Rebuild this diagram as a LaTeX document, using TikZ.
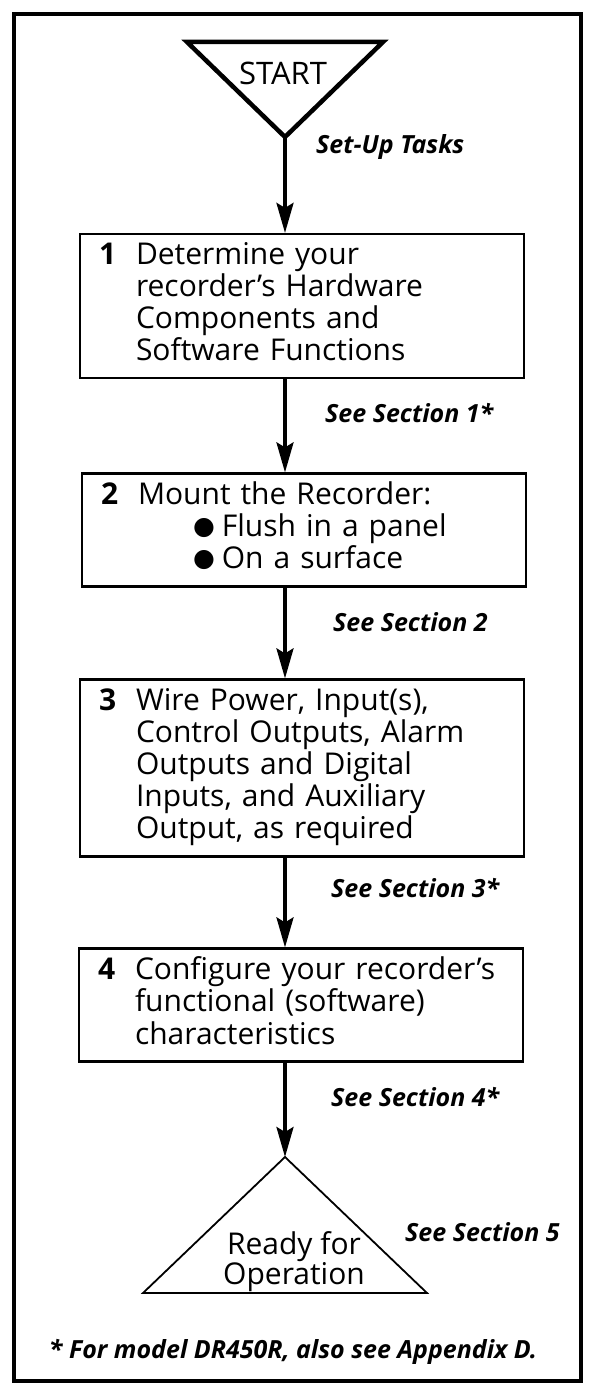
\documentclass[tikz,border=0pt]{standalone}
\usepackage{fontspec}
\setmainfont{Open Sans}
\newfontfamily\bulletfont{DejaVu Sans}
\usetikzlibrary{arrows.meta}

% number column + text column inside a step box
\newcommand{\stepnum}[2]{%
  \begin{tabular}[t]{@{}p{37pt}@{}l@{}}\textbf{#1} & \begin{tabular}[t]{@{}l@{}}#2\end{tabular}\end{tabular}}
\newcommand{\bul}{\hspace*{55pt}\raisebox{2pt}{\bulletfont\fontsize{25}{31}\selectfont ●}\hspace{7pt}}

\begin{document}
\begin{tikzpicture}[x=1pt,y=-1pt,every path/.style={>={Stealth[length=30pt,width=17pt,inset=5pt]}},
	stepbox/.style={draw,line width=2.2pt,rectangle,inner xsep=19pt,inner ysep=0pt,text width=406pt,align=left,font=\fontsize{30}{31}\selectfont},
	seclabel/.style={inner sep=0pt,anchor=west,font=\fontsize{25}{28}\selectfont\bfseries\itshape},
	flow/.style={->,line width=3.5pt}]
	\useasboundingbox (0,0) rectangle (592,1383);

	% draw outer frame
	\draw[line width=4pt] (14,14) rectangle (581,1381);

	% draw start triangle
	\coordinate (startapex) at (285,137);
	\draw[line width=4.5pt,line join=miter] (187,42) -- (383,42) -- (startapex) -- cycle;
	\node (start) at (283,73) [font=\fontsize{31}{31}\selectfont] {START};
	\node (setup) at (316,147) [seclabel] {Set-Up Tasks};

	% draw step boxes
	\node (step1) at (302,306) [stepbox,minimum height=144pt]
		{\stepnum{1}{Determine your\\recorder’s Hardware\\Components and\\Software Functions}};
	\node (step2) at (304,530) [stepbox,minimum height=113pt]
		{\stepnum{2}{Mount the Recorder:\\\bul Flush in a panel\\\bul On a surface}};
	\node (step3) at (302,768) [stepbox,minimum height=177pt]
		{\stepnum{3}{Wire Power, Input(s),\\Control Outputs, Alarm\\Outputs and Digital\\Inputs, and Auxiliary\\Output, as required}};
	\node (step4) at (301,1005) [stepbox,minimum height=113pt]
		{\stepnum{4}{Configure your recorder’s\\functional (software)\\characteristics}};

	% draw end triangle
	\coordinate (endapex) at (285,1157);
	\draw[line width=1.8pt,line join=miter] (endapex) -- (427,1293) -- (143,1293) -- cycle;
	\node (ready) at (294,1262) [align=center,font=\fontsize{30}{30}\selectfont] {Ready for\\Operation};

	% draw section labels
	\node (sec1) at (325,413) [seclabel] {See Section 1*};
	\node (sec2) at (333,622) [seclabel] {See Section 2};
	\node (sec3) at (331,888) [seclabel] {See Section 3*};
	\node (sec4) at (331,1097) [seclabel] {See Section 4*};
	\node (sec5) at (405,1232) [seclabel] {See Section 5};

	% draw footnote
	\node (note) at (293,1352) [seclabel,anchor=center] {* For model DR450R, also see Appendix D.};

	% draw arrows between the steps
	\draw[flow] (startapex) -- (startapex |- step1.north);
	\draw[flow] (step1.south -| startapex) -- (startapex |- step2.north);
	\draw[flow] (step2.south -| startapex) -- (startapex |- step3.north);
	\draw[flow] (step3.south -| startapex) -- (startapex |- step4.north);
	\draw[flow] (step4.south -| startapex) -- (endapex);
\end{tikzpicture}
\end{document}
